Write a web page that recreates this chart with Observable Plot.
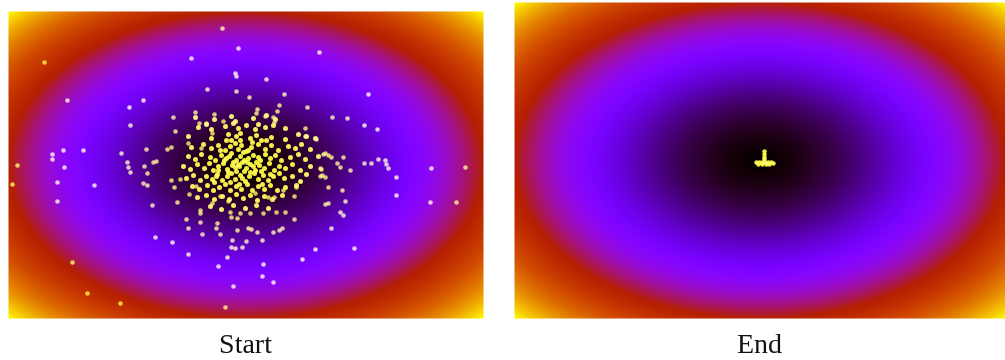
<!DOCTYPE html>
<html>
<head>
<meta charset="utf-8">
<script src="https://cdn.jsdelivr.net/npm/d3@7"></script>
<script src="https://cdn.jsdelivr.net/npm/@observablehq/plot@0.6"></script>
<style>
  html, body { margin: 0; padding: 0; background: #fff; }
  #wrap { position: relative; width: 1005px; height: 360px; }
  #chart svg { display: block; }
  #captions { position: relative; width: 1005px; height: 40px; }
  .cap { position: absolute; top: 8px; transform: translateX(-50%);
         font-family: "Liberation Serif", "Times New Roman", serif; font-size: 28px;
         line-height: 32px; color: #111; white-space: nowrap; }
</style>
</head>
<body>
<div id="wrap">
  <div id="chart"></div>
  <div id="captions"></div>
</div>
<script>
// ---------- data ----------
const panelLabels = ["Start", "End"];

// Particle positions (figure coordinate units) at the start of optimisation
const startOuter = [
  [222,28],[238,48],[319,52],[191,58],[44,62],[235,73],[236,76],[266,79],[207,89],[236,91],
  [284,94],[249,97],[368,94],[67,100],[143,100],[129,107],[307,107],[279,105],[277,111],[273,117],
  [257,109],[195,112],[214,114],[332,117],[347,118],[173,117],[130,125],[364,125],[377,129],[175,131],
  [199,123],[206,123],[223,121],[256,113],[265,116],[274,122],[212,133],[188,143],[201,148],[171,147],
  [325,153],[316,139],[305,128],[305,136],
  [63,150],[83,150],[52,154],[52,159],[121,153],[146,149],[127,162],[153,162],[156,161],[167,149],
  [17,165],[64,167],[57,182],[57,201],[12,184],[94,185],[128,167],[130,172],[144,166],[147,173],
  [143,183],[147,185],[152,205],[155,237],[172,242],[188,254],[72,262],[87,293],[120,303],[225,307],
  [233,286],[262,276],[273,282],[263,264],[218,266],[227,257],[302,259],[315,249],[354,248],[331,228],
  [343,215],[340,212],[345,201],[342,190],[328,203],[396,195],[396,177],[430,202],[456,202],[431,168],
  [465,167],[350,170],[364,163],[371,163],[378,159],[385,160],[386,164],[388,168],[343,157],[328,187],
  [323,154],[328,155],[331,157],[337,163],[340,167],[320,168],[322,175],[325,177],
  [186,219],[188,228],[200,222],[202,234],[217,223],[216,228],[220,234],[232,240],[231,247],[235,248],
  [242,247],[246,241],[237,230],[248,228],[251,229],[257,232],[262,240],[273,232],[279,230],[282,228],
  [294,219],[285,212],[276,212],[263,213],[250,213],[240,213],[237,218],[230,212],[231,217],[212,203],
  [200,210],[200,213],[177,202],[189,194],[171,180],[174,187],[180,179],[196,186],[220,196],[228,201],
  [255,193],[268,197],[274,197],[283,190],[294,196],[296,187],[320,176],[321,169],[325,204]
];

const startCore = [
  [195,117],[214,119],[231,116],[235,121],[253,118],[266,115],[275,119],
  [198,127],[206,124],[211,129],[225,126],[233,123],[238,128],[246,125],[255,129],[258,124],[265,127],[273,125],[285,128],
  [188,136],[211,138],[228,134],[231,140],[236,136],[240,133],[250,138],[256,135],[261,140],[271,137],[285,139],[298,134],[306,136],[315,138],
  [191,147],[203,144],[211,148],[218,145],[225,150],[230,146],[235,143],[238,149],[241,145],[246,151],[251,147],[258,144],[265,149],[271,145],[278,150],[288,146],[295,148],[301,144],[310,149],
  [188,156],[195,159],[201,154],[210,157],[215,160],[221,155],[226,158],[231,153],[236,160],[240,156],[243,152],[248,158],[253,155],[260,160],[265,154],[270,158],[275,155],[281,160],[290,157],[298,154],[305,159],[318,156],
  [183,166],[190,169],[197,164],[204,168],[209,163],[213,170],[218,166],[223,163],[227,169],[232,165],[236,171],[239,166],[242,162],[246,168],[250,164],[255,170],[259,165],[264,168],[269,163],[274,170],[279,166],[285,168],[292,164],[300,170],[310,166],
  [186,178],[193,175],[200,180],[206,176],[212,179],[217,174],[222,180],[227,176],[231,173],[235,179],[240,175],[245,181],[249,176],[254,173],[258,179],[263,175],[268,180],[273,176],[279,173],[284,178],[292,176],[300,181],[306,174],
  [192,186],[199,189],[207,185],[213,190],[219,187],[225,184],[230,190],[236,186],[241,189],[247,184],[252,190],[258,186],[264,189],[270,185],[277,190],[285,187],[296,185],
  [197,197],[206,195],[214,199],[222,196],[229,199],[236,194],[243,198],[250,195],[257,200],[264,196],[272,199],[282,195],
  [210,206],[221,209],[233,205],[245,208],[256,205],[268,208],
  [238,164],[244,160],[233,162],[250,172],[228,172],[256,162],[220,150],[262,184],[214,182],[242,178],
  [230,182],[248,150],[226,140],[266,140],[252,142],[240,140],[218,170],[270,174],
  [224,160],[229,156],[247,162],[253,166],[235,167],[244,171],[258,157],[216,176],[261,171],[239,184]
];

// Particle positions at the end of optimisation
const endPts = [
  [764,151],[764,154],[764,157],[764,159],[756,162],[759,162],[762,162],[765,162],[768,162],
  [771,162],[773,163],[758,164],[762,164],[766,164],[769,164]
];

// ---------- layout (panel extents in figure units) ----------
const W = 1005, H = 320;
const panels = [
  {label: panelLabels[0], x1: 8,   x2: 483,  y1: 11, y2: 318},
  {label: panelLabels[1], x1: 514, x2: 1005, y1: 2,  y2: 318}
];

// gnuplot colormap (r = sqrt(t), g = t^3, b = sin(2πt))
function gnuplot(t) {
  t = Math.max(0, Math.min(1, t));
  const r = Math.sqrt(t), g = t * t * t, b = Math.max(0, Math.sin(2 * Math.PI * t));
  return `rgb(${Math.round(r * 255)},${Math.round(g * 255)},${Math.round(b * 255)})`;
}

// quadratic bowl landscape over each panel
function bowl(p) {
  const cx = (p.x1 + p.x2) / 2, cy = (p.y1 + p.y2) / 2;
  const hx = (p.x2 - p.x1) / 2, hy = (p.y2 - p.y1) / 2;
  return (x, y) => {
    const u = (x - cx) / hx, v = (y - cy) / hy;
    return u * u + v * v;
  };
}

const dotStyle = {x: d => d[0], y: d => d[1], r: 2.3, fill: "#f4e63c", fillOpacity: 0.85, stroke: "none", mixBlendMode: "screen"};

const chart = Plot.plot({
  width: W, height: H,
  margin: 0,
  x: {domain: [0, W], axis: null},
  y: {domain: [0, H], reverse: true, axis: null},
  color: {type: "linear", domain: [0, 2], interpolate: gnuplot, clamp: true},
  marks: [
    ...panels.map(p => Plot.raster({x1: p.x1, x2: p.x2, y1: p.y1, y2: p.y2, fill: bowl(p), pixelSize: 1})),
    Plot.dot(startOuter, dotStyle),
    Plot.dot(startCore, {...dotStyle, r: 2.5, fill: "#f2ec3a", fillOpacity: 1}),
    Plot.dot(endPts, {...dotStyle, r: 2.2, fill: "#f2ec3a", fillOpacity: 1})
  ]
});
document.getElementById("chart").appendChild(chart);

const caps = document.getElementById("captions");
panels.forEach(p => {
  const s = document.createElement("span");
  s.className = "cap";
  s.textContent = p.label;
  s.style.left = ((p.x1 + p.x2) / 2) + "px";
  caps.appendChild(s);
});
</script>
</body>
</html>
